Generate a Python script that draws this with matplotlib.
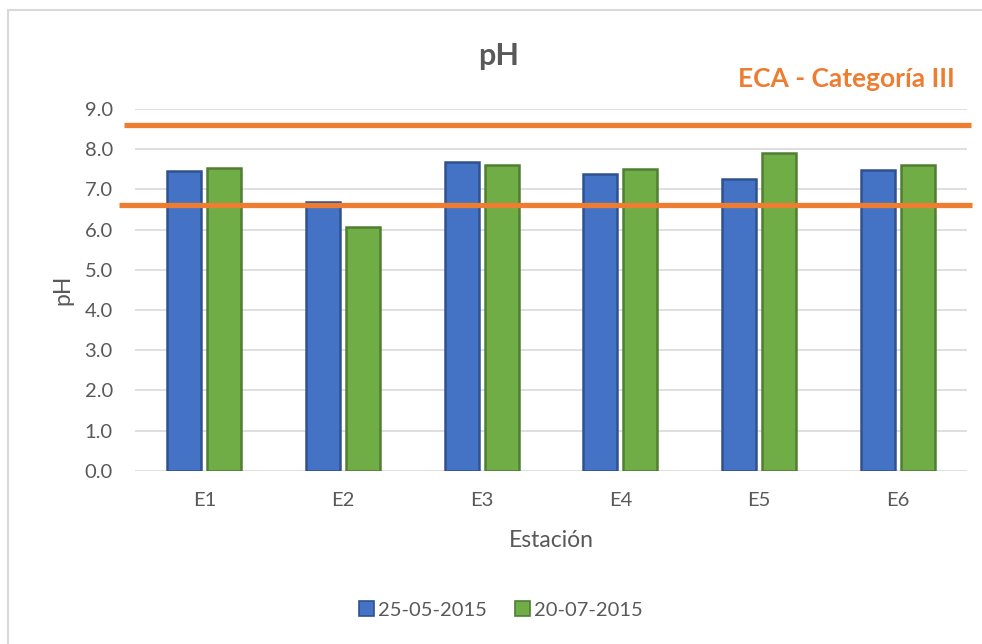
import numpy as np
import matplotlib.pyplot as plt
from matplotlib.patches import Patch, Rectangle

plt.rcParams['font.family'] = ['Lato', 'DejaVu Sans']

estaciones = ["E1", "E2", "E3", "E4", "E5", "E6"]
fechas = ["25-05-2015", "20-07-2015"]
ph_may = [7.47, 6.68, 7.67, 7.39, 7.25, 7.48]
ph_jul = [7.54, 6.06, 7.60, 7.50, 7.90, 7.60]
eca_lines = [8.6, 6.62]
yticks = np.arange(0, 9.5, 1.0)

blue, blue_edge = "#4472C4", "#2F528F"
green, green_edge = "#70AD47", "#507E32"
orange = "#ED7D31"
txt = "#595959"
grid = "#D9D9D9"

fig = plt.figure(figsize=(9.82, 6.44), dpi=100)
ax = fig.add_axes([0.1375, 0.269, 0.8472, 0.5617])

# chart border (only top and left visible)
fig.patches.append(Rectangle((8 / 982, -0.1), 1.2, 1 - 10 / 644 + 0.1,
                             transform=fig.transFigure, fill=False,
                             edgecolor=grid, linewidth=1.5))

x = np.arange(len(estaciones))
w = 0.245
gap = 0.043
ax.bar(x - (w + gap) / 2, ph_may, w, color=blue, edgecolor=blue_edge,
       linewidth=1.8, zorder=3)
ax.bar(x + (w + gap) / 2, ph_jul, w, color=green, edgecolor=green_edge,
       linewidth=1.8, zorder=3)

ax.set_xlim(-0.5, len(estaciones) - 0.5)
ax.set_ylim(0, 9)
ax.set_yticks(yticks)
ax.set_yticklabels([f"{v:.1f}" for v in yticks])
ax.set_xticks(x)
ax.set_xticklabels(estaciones)
ax.tick_params(length=0, labelsize=14.5, colors=txt)
ax.tick_params(axis='y', pad=16)
ax.tick_params(axis='x', pad=15)
ax.yaxis.grid(True, color=grid, linewidth=1.2, zorder=0)
for s in ax.spines.values():
    s.set_visible(False)

ax.set_xlabel("Estación", fontsize=16.5, color=txt)
ax.set_ylabel("pH", fontsize=16.5, color=txt)
ax.xaxis.set_label_coords(0.5, -0.163)
ax.yaxis.set_label_coords(-0.0745, 0.5)

# ECA limit lines, drawn a bit beyond the plot area
trans = ax.get_yaxis_transform()
ax.plot([-0.013, 1.005], [eca_lines[0]] * 2, color=orange, linewidth=3.8,
        transform=trans, clip_on=False, zorder=5, solid_capstyle='butt')
ax.plot([-0.019, 1.006], [eca_lines[1]] * 2, color=orange, linewidth=3.8,
        transform=trans, clip_on=False, zorder=5, solid_capstyle='butt')

fig.text(499 / 982, 1 - 56 / 644, "pH", fontsize=22, fontweight='bold',
         color=txt, ha='center', va='center')
fig.text(846 / 982, 1 - 79 / 644, "ECA - Categoría III", fontsize=19,
         fontweight='bold', color=orange, ha='center', va='center')

handles = [Patch(facecolor=blue, edgecolor=blue_edge, linewidth=1.2),
           Patch(facecolor=green, edgecolor=green_edge, linewidth=1.2)]
fig.legend(handles, fechas, loc='center', bbox_to_anchor=(0.51, 1 - 610 / 644),
           ncol=2, frameon=False, fontsize=14.5, handlelength=0.75,
           handleheight=0.75, handletextpad=0.2, columnspacing=1.4,
           labelcolor=txt)

fig.savefig("out.png", dpi=100, facecolor='white')
